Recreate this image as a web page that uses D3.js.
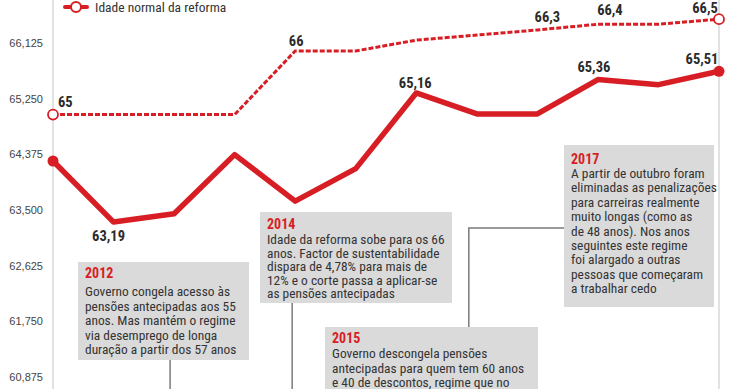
<!DOCTYPE html>
<html>
<head>
<meta charset="utf-8">
<script src="https://cdn.jsdelivr.net/npm/d3@7"></script>
<style>
    body { margin: 0; background: #fff; }
    svg { display: block; font-family: "Liberation Sans Narrow", "Roboto Condensed", "Arial Narrow", sans-serif; }
</style>
</head>
<body>
<div id="chart"></div>
<script>
const years = [2010, 2011, 2012, 2013, 2014, 2015, 2016, 2017, 2018, 2019, 2020, 2021];
const normalAge = [65, 65, 65, 65, 66, 66, 66.17, 66.25, 66.33, 66.42, 66.42, 66.5];
const normalLabels = ["65", null, null, null, "66", null, null, null, "66,3", "66,4", null, "66,5"];
const effectiveAge = [64.27, 63.31, 63.44, 64.37, 63.64, 64.15, 65.34, 65.01, 65.01, 65.55, 65.47, 65.68];
const effectiveLabels = [null, "63,19", null, null, null, null, "65,16", null, null, "65,36", null, "65,51"];
const yTicks = [60.875, 61.75, 62.625, 63.5, 64.375, 65.25, 66.125];
const legendText = "Idade normal da reforma";

const notes = [
    { year: 2012, lines: ["Governo congela acesso às", "pensões antecipadas aos 55", "anos. Mas mantém o regime", "via desemprego de longa", "duração a partir dos 57 anos"] },
    { year: 2014, lines: ["Idade da reforma sobe para os 66", "anos. Factor de sustentabilidade", "dispara de 4,78% para mais de", "12% e o corte passa a aplicar-se", "as pensões antecipadas"] },
    { year: 2015, lines: ["Governo descongela pensões", "antecipadas para quem tem 60 anos", "e 40 de descontos, regime que no"] },
    { year: 2017, lines: ["A partir de outubro foram", "eliminadas as penalizações", "para carreiras realmente", "muito longas (como as", "de 48 anos). Nos anos", "seguintes este regime", "foi alargado a outras", "pessoas que começaram", "a trabalhar cedo"] }
];

const width = 740, height = 389;
const red = "#d81e25";

const svg = d3.select("#chart").append("svg")
    .attr("width", width)
    .attr("height", height);

const x = d3.scalePoint().domain(years).range([53, 719]);
const y = d3.scaleLinear().domain([60.875, 66.125]).range([377, 43]);

const locale = d3.formatLocale({ decimal: ",", thousands: ".", grouping: [3], currency: ["", "€"] });
const tickFmt = locale.format(".3f");

// axis lines
svg.append("line")
    .attr("x1", x(2010)).attr("x2", x(2010))
    .attr("y1", 0).attr("y2", height)
    .attr("stroke", "#cfcfcf").attr("stroke-width", 1.2);
svg.append("line")
    .attr("x1", x(2021)).attr("x2", x(2021))
    .attr("y1", 0).attr("y2", height)
    .attr("stroke", "#cfcfcf").attr("stroke-width", 1.2);

const yAxis = svg.append("g")
    .attr("transform", "translate(43,0)")
    .call(d3.axisLeft(y).tickValues(yTicks).tickFormat(tickFmt).tickSize(0).tickPadding(0));
yAxis.select(".domain").remove();
yAxis.selectAll("text")
    .attr("font-family", "inherit")
    .attr("font-size", 11)
    .attr("fill", "#444");

// annotation boxes
const boxLayout = {
    2012: { bx: 78, by: 262, bw: 171, bh: 98, title: 278, first: 296, lh: 14.5, off: -4, conn: "down" },
    2014: { bx: 260, by: 212, bw: 192, bh: 91, title: 229, first: 244, lh: 13.6, off: -3, conn: "down" },
    2015: { bx: 325, by: 327, bw: 213, bh: 70, title: 343, first: 358, lh: 14.5, off: 0, conn: "none" },
    2017: { bx: 564, by: 145, bw: 150, bh: 162, title: 164, first: 178, lh: 14.4, off: -8, conn: "left" }
};

const connectors = svg.append("g")
    .attr("fill", "none")
    .attr("stroke", "#7a7a7a")
    .attr("stroke-width", 1.5);

notes.forEach(n => {
    const b = boxLayout[n.year];
    const cx = x(n.year) + b.off;
    if (b.conn === "down") {
        connectors.append("line")
            .attr("x1", cx).attr("x2", cx)
            .attr("y1", b.by + b.bh).attr("y2", height);
    } else if (b.conn === "left") {
        const cy = b.by + 83;
        connectors.append("polyline")
            .attr("points", [[b.bx, cy], [cx, cy], [cx, boxLayout[2015].by]].join(" "));
    }
});

const boxes = svg.append("g");
notes.forEach(n => {
    const b = boxLayout[n.year];
    const g = boxes.append("g");
    g.append("rect")
        .attr("x", b.bx).attr("y", b.by)
        .attr("width", b.bw).attr("height", b.bh)
        .attr("fill", "#dadada");
    g.append("text")
        .attr("x", b.bx + 7).attr("y", b.title)
        .attr("font-size", 14)
        .attr("font-weight", "bold")
        .attr("fill", red)
        .text(n.year);
    g.selectAll("text.line")
        .data(n.lines)
        .enter()
        .append("text")
        .attr("class", "line")
        .attr("x", b.bx + 7)
        .attr("y", (d, i) => b.first + i * b.lh)
        .attr("font-size", 13.4)
        .attr("fill", "#333")
        .text(d => d);
});

// lines
const normalData = years.map((yr, i) => ({ year: yr, value: normalAge[i], label: normalLabels[i] }));
const effectiveData = years.map((yr, i) => ({ year: yr, value: effectiveAge[i], label: effectiveLabels[i] }));

const line = d3.line()
    .x(d => x(d.year))
    .y(d => y(d.value));

svg.append("path")
    .datum(normalData)
    .attr("d", line)
    .attr("fill", "none")
    .attr("stroke", red)
    .attr("stroke-width", 3)
    .attr("stroke-dasharray", "5,2");

svg.append("path")
    .datum(effectiveData)
    .attr("d", line)
    .attr("fill", "none")
    .attr("stroke", red)
    .attr("stroke-width", 5.5)
    .attr("stroke-linejoin", "round");

const ends = d => [d[0], d[d.length - 1]];

svg.selectAll("circle.normal")
    .data(ends(normalData))
    .enter()
    .append("circle")
    .attr("class", "normal")
    .attr("cx", d => x(d.year))
    .attr("cy", d => y(d.value))
    .attr("r", 5)
    .attr("fill", "#fff")
    .attr("stroke", red)
    .attr("stroke-width", 1.8);

svg.selectAll("circle.effective")
    .data(ends(effectiveData))
    .enter()
    .append("circle")
    .attr("class", "effective")
    .attr("cx", d => x(d.year))
    .attr("cy", d => y(d.value))
    .attr("r", 5.5)
    .attr("fill", red);

// value labels (offsets relative to the point)
const labelOffset = {
    "normal-2010": [5, -8, "start"],
    "normal-2014": [1, -5, "middle"],
    "normal-2018": [10, -8, "middle"],
    "normal-2019": [12, -9, "middle"],
    "normal-2021": [-14, -6, "middle"],
    "effective-2011": [-5, 19, "middle"],
    "effective-2016": [-1, -5, "middle"],
    "effective-2019": [-4, -8, "middle"],
    "effective-2021": [-17, -7, "middle"]
};

[["normal", normalData], ["effective", effectiveData]].forEach(([key, data]) => {
    svg.selectAll("text.lbl-" + key)
        .data(data.filter(d => d.label))
        .enter()
        .append("text")
        .attr("class", "lbl-" + key)
        .attr("x", d => x(d.year) + labelOffset[key + "-" + d.year][0])
        .attr("y", d => y(d.value) + labelOffset[key + "-" + d.year][1])
        .attr("text-anchor", d => labelOffset[key + "-" + d.year][2])
        .attr("font-size", 14.5)
        .attr("font-weight", "bold")
        .attr("fill", "#2b2b2b")
        .text(d => d.label);
});

// legend
const legend = svg.append("g").attr("transform", "translate(65,7)");
legend.append("line")
    .attr("x1", 0).attr("x2", 22)
    .attr("stroke", red).attr("stroke-width", 4)
    .attr("stroke-linecap", "round");
legend.append("circle")
    .attr("cx", 11).attr("r", 5)
    .attr("fill", "#fff").attr("stroke", red).attr("stroke-width", 2);
legend.append("text")
    .attr("x", 30).attr("dy", "0.35em")
    .attr("font-size", 13.5)
    .attr("fill", "#333")
    .text(legendText);
</script>
</body>
</html>
